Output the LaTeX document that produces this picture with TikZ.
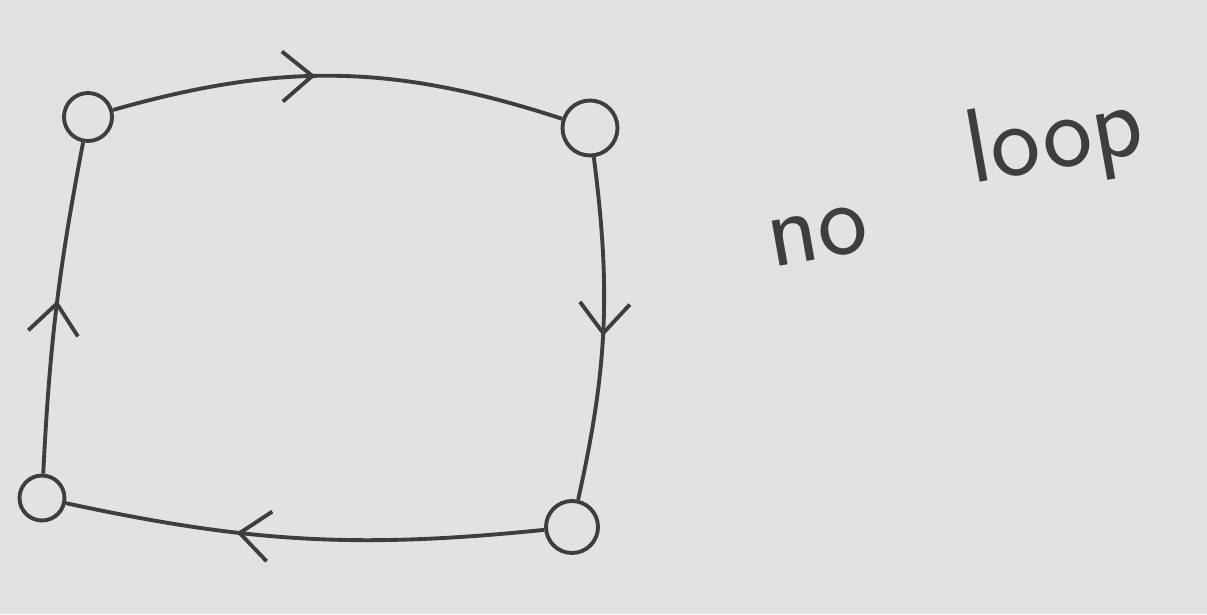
\documentclass[tikz,border=0pt]{standalone}
\usetikzlibrary{arrows.meta,decorations.markings}
\definecolor{paper}{RGB}{226,226,224}
\definecolor{pencil}{RGB}{62,62,60}
\tikzset{
  vertex/.style={draw=pencil,circle,line width=1.1pt,inner sep=0pt},
  link/.style={draw=pencil,line width=1.1pt,
    postaction={decorate,decoration={markings,
      mark=at position #1 with {\arrow[pencil,line width=1.1pt]{Straight Barb[length=0.3cm,width=0.5cm]}}}}},
  link/.default=0.5,
  scrawl/.style={text=pencil,font=\sffamily\fontsize{30}{36}\selectfont,inner sep=1pt}
}
\begin{document}
\begin{tikzpicture}[x=1cm,y=1cm]

%%%%%%%%%%%%%%%%%%%%%%%%%%%%%%%%%%%%%%%%%%%%%%%%%%%%%%%%%%%%%%
% PAPER
%%%%%%%%%%%%%%%%%%%%%%%%%%%%%%%%%%%%%%%%%%%%%%%%%%%%%%%%%%%%%%

\fill[paper] (0,0) rectangle (12.07,6.14);
\useasboundingbox (0,0) rectangle (12.07,6.14);

%%%%%%%%%%%%%%%%%%%%%%%%%%%%%%%%%%%%%%%%%%%%%%%%%%%%%%%%%%%%%%
% VERTICES
%%%%%%%%%%%%%%%%%%%%%%%%%%%%%%%%%%%%%%%%%%%%%%%%%%%%%%%%%%%%%%

\node[vertex,minimum size=0.48cm](topleft) at (0.88,4.97){};
\node[vertex,minimum size=0.55cm](topright) at (5.90,4.86){};
\node[vertex,minimum size=0.52cm](botright) at (5.72,0.87){};
\node[vertex,minimum size=0.45cm](botleft) at (0.42,1.16){};

%%%%%%%%%%%%%%%%%%%%%%%%%%%%%%%%%%%%%%%%%%%%%%%%%%%%%%%%%%%%%%
% CYCLE
%%%%%%%%%%%%%%%%%%%%%%%%%%%%%%%%%%%%%%%%%%%%%%%%%%%%%%%%%%%%%%

\draw[link=0.45] (topleft) to[bend left=17] (topright);
\draw[link=0.52] (topright) to[bend left=10] (botright);
\draw[link=0.64] (botright) to[bend left=9] (botleft);
\draw[link=0.52] (botleft) to[bend left=4] (topleft);

%%%%%%%%%%%%%%%%%%%%%%%%%%%%%%%%%%%%%%%%%%%%%%%%%%%%%%%%%%%%%%
% LABEL
%%%%%%%%%%%%%%%%%%%%%%%%%%%%%%%%%%%%%%%%%%%%%%%%%%%%%%%%%%%%%%

\node[scrawl,rotate=10] (no) at (8.18,3.78) {no};
\node[scrawl,rotate=10] (loop) at (10.55,4.72) {loop};

\end{tikzpicture}
\end{document}
